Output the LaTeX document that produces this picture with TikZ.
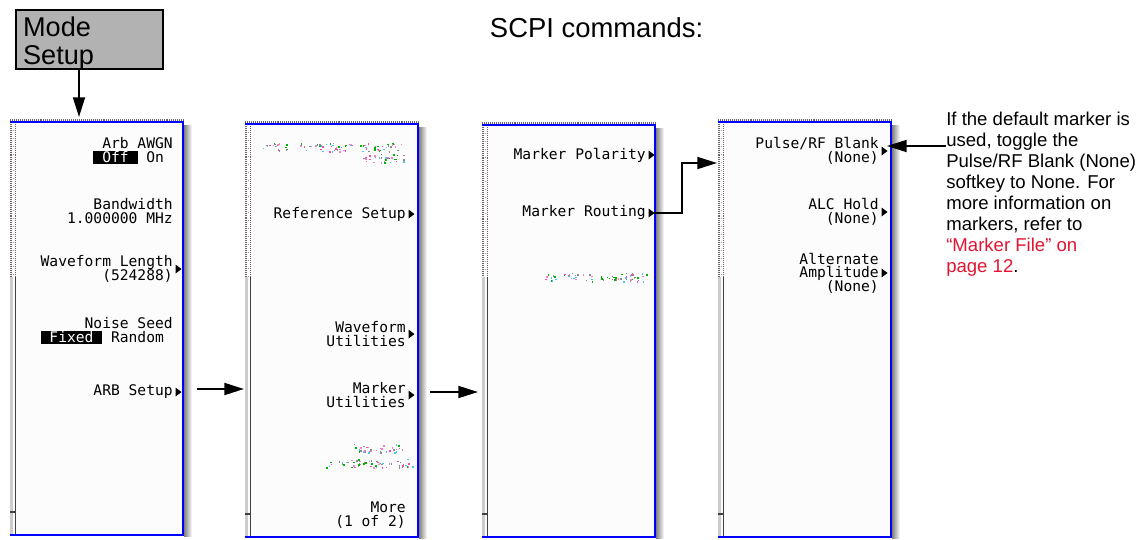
\documentclass[tikz,border=0pt]{standalone}
\usepackage{fontspec}
\setmainfont{Liberation Sans}
\newfontfamily\keyfont{DejaVu Sans Mono}
\usetikzlibrary{arrows.meta}
\definecolor{linkred}{RGB}{226,20,50}
\definecolor{screen}{RGB}{252,252,252}
\setlength{\lineskiplimit}{-20pt}
\newcommand\invkey[1]{{\setlength\fboxsep{0pt}\colorbox{black}{\rule[-1.6pt]{0pt}{9.8pt}\color{white}\hphantom{x}#1\hphantom{x}}}}
\pgfmathdeclarerandomlist{dotcolor}{{magenta!70}{green!70!black}{black!45}{cyan!70}{magenta!50}}
% greyed-out softkey text: scattered coloured dots
\newcommand\garble[3]{%
  \pgfmathtruncatemacro\gn{(#2-#1)/1.4}
  \foreach \i in {1,...,\gn}{
    \pgfmathrandomitem\dc{dotcolor}
    \fill[\dc] ({#1+rnd*(#2-#1)}, {#3-4.5+rnd*9}) rectangle ++(1.5,1.5);
  }}
\tikzset{modekey/.style = {draw, line width=1.6pt, fill=black!30, minimum width=3.675cm, minimum height=1.475cm, inner xsep=0.175cm, inner ysep=0pt, text width=3.325cm, align=left, text height=14.5pt, text depth=19.5pt, font=\fontsize{19.3}{19.9}\selectfont}}
\tikzset{softkey/.style = {anchor=east, inner sep=0pt, align=right, font=\keyfont\fontsize{10.4}{9.6}\selectfont}}
\tikzset{note/.style = {anchor=north west, inner sep=0pt, align=left, font=\fontsize{13.2}{14.9}\selectfont}}
\tikzset{flow/.style = {-{Triangle[length=14pt, width=8.5pt]}, line width=1.4pt}}
\tikzset{more/.pic = {\fill (0,-4.5) -- (6,0) -- (0,4.5) -- cycle;}}

\begin{document}
\begin{tikzpicture}[x=0.025cm, y=-0.025cm]
  \useasboundingbox (0,0) rectangle (1140,540);
  \pgfmathsetseed{7}

  % softkey panels
  \foreach \px/\pt/\pb in {10/122/535, 245/124/537, 482/125/537, 718/122/537} {
    \shade[left color=black!50, right color=white] (\px+174,\pt+3) rectangle (\px+182,\pb+1);
    \fill[screen] (\px,\pt) rectangle (\px+173,\pb);
    \draw[black!60, line width=0.8pt, dash pattern=on 0.7pt off 0.7pt] (\px,\pt-2) -- (\px+174,\pt-2);
    \draw[black!60, line width=0.9pt, dash pattern=on 0.7pt off 0.7pt] (\px+1,\pt) -- (\px+1,277);
    \draw[black!60, line width=0.9pt, dash pattern=on 0.7pt off 0.7pt] (\px+5.5,\pt) -- (\px+5.5,277);
    \draw[magenta!60, line width=0.9pt, dash pattern=on 0.7pt off 5pt] (\px+3.2,\pt) -- (\px+3.2,277);
    \draw[black!20, line width=1.5pt] (\px+1.5,277) -- (\px+1.5,\pb);
    \draw[black!75, line width=1pt] (\px+5.5,277) -- (\px+5.5,\pb);
    \draw[black!75, line width=0.8pt] (\px,\pb-23) -- (\px+5.5,\pb-23);
    \draw[blue, line width=1.6pt] (\px,\pt) -- (\px+173,\pt) -- (\px+173,\pb) -- (\px,\pb);
  }

  \node[modekey, anchor=north west] (mode) at (15,9) {Mode\\Setup};
  \node[anchor=base west, font=\fontsize{19.5}{22}\selectfont] (scpi) at (485,37) {SCPI commands:};

  % panel 1
  \node[softkey] (awgn) at (173,151) {Arb AWGN\\\invkey{Off} On\hphantom{x}};
  \node[softkey] (bw) at (173,211) {Bandwidth\\1.000000 MHz};
  \node[softkey] (wlen) at (173,269) {Waveform Length\\(524288)};
  \node[softkey] (seed) at (173,331) {Noise Seed\\\invkey{Fixed} Random\hphantom{x}};
  \node[softkey] (arb) at (173,392) {ARB Setup};

  % panel 2
  \garble{262}{288}{147} \garble{298}{352}{147} \garble{360}{402}{147} \garble{363}{405}{158}
  \node[softkey] (ref) at (406,214) {Reference Setup};
  \node[softkey] (wfu) at (406,334) {Waveform\\Utilities};
  \node[softkey] (mku) at (406,395) {Marker\\Utilities};
  \garble{352}{402}{448} \garble{325}{413}{463}
  \node[softkey] (more) at (406,515) {More\\(1 of 2)};

  % panel 3
  \node[softkey] (pol) at (646,155) {Marker Polarity};
  \node[softkey] (rout) at (646,213) {Marker Routing};
  \garble{544}{557}{277} \garble{562}{647}{277}

  % panel 4
  \node[softkey] (pulse) at (879,151) {Pulse/RF Blank\\(None)};
  \node[softkey] (alc) at (879,212) {ALC Hold\\(None)};
  \node[softkey] (alt) at (879,273) {Alternate\\Amplitude\\(None)};

  \foreach \k in {wlen, arb, ref, wfu, mku, pol, rout, pulse, alc, alt}
    \path (\k.east) ++(2.5,0) pic {more};

  \node[note] (note) at (946,112) {If the default marker is\\used, toggle the\\Pulse/RF Blank (None)\\softkey to None. For\\more information on\\markers, refer to\\\textcolor{linkred}{“Marker File” on}\\\textcolor{linkred}{page 12}.};

  \coordinate (pa-in) at (79,117);
  \coordinate (pa-out) at (197,389);
  \coordinate (pb-in) at (244,389);
  \coordinate (pb-out) at (430,392);
  \coordinate (pc-in) at (478,392);
  \coordinate (pd-in) at (717,163);
  \coordinate (pd-out) at (887,146);

  \draw[flow] (mode.south -| pa-in) -- (pa-in);
  \draw[flow] (pa-out) -- (pb-in);
  \draw[flow] (pb-out) -- (pc-in);
  \draw[flow] ([xshift=5.7pt]rout.east) -- ++(28,0) |- (pd-in);
  \draw[flow] (note.west |- pd-out) -- (pd-out);
\end{tikzpicture}
\end{document}
